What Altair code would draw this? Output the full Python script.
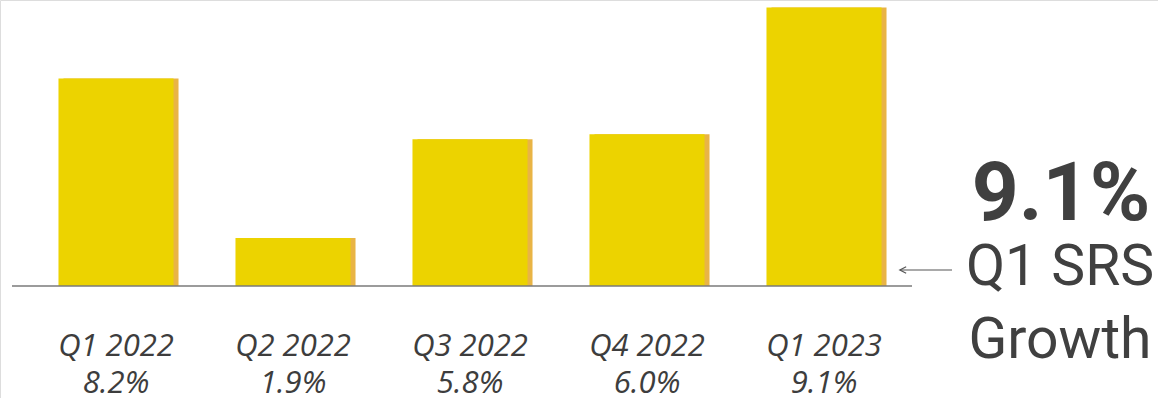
import altair as alt
import pandas as pd

quarters = ["Q1 2022", "Q2 2022", "Q3 2022", "Q4 2022", "Q1 2023"]
growth_labels = ["8.2%", "1.9%", "5.8%", "6.0%", "9.1%"]
# bar heights as drawn in the picture (the last bar is drawn taller than its value)
bar_heights = [8.2, 1.9, 5.8, 6.0, 11.0]

headline = "9.1%"
caption_lines = ["Q1 SRS", "Growth"]

df = pd.DataFrame({"quarter": quarters, "label": growth_labels, "h": bar_heights})

W, H = 1158, 398
xscale = alt.Scale(domain=quarters, range=[27.5, 912.5], paddingInner=0.35, paddingOuter=0.175)
yscale = alt.Scale(domain=[0, 11.3], range=[286, 0])

X = alt.X("quarter:N", scale=xscale, axis=None, sort=quarters)
Y = alt.Y("h:Q", scale=yscale, axis=None)

shadow = alt.Chart(df).mark_bar(color="#E9B445", xOffset=5).encode(x=X, y=Y, y2=alt.datum(0))
bars = alt.Chart(df).mark_bar(color="#ECD300").encode(x=X, y=Y, y2=alt.datum(0))

baseline = alt.Chart(df.head(1)).mark_rule(color="#7a7a7a", strokeWidth=1.5).encode(
    x=alt.value(12), x2=alt.value(912), y=alt.value(286))

labels = alt.Chart(df).transform_calculate(
    full="datum.quarter + '\\n' + datum.label"
).mark_text(font="Open Sans", fontStyle="italic", fontSize=31, lineBreak="\n", lineHeight=37,
            color="#3d3d3d", baseline="alphabetic").encode(
    x=X, y=alt.value(356), text="full:N")

hdf = pd.DataFrame({"t": [headline]})
head = alt.Chart(hdf).mark_text(font="Roboto", fontWeight="bold", fontSize=82,
                                color="#404040", baseline="alphabetic", align="center").encode(
    x=alt.value(1061), y=alt.value(220), text="t:N")

cdf = pd.DataFrame({"t": ["\n".join(caption_lines)]})
cap = alt.Chart(cdf).mark_text(font="Roboto", fontSize=57, color="#404040", lineBreak="\n",
                               lineHeight=73, baseline="alphabetic", align="center").encode(
    x=alt.value(1060), y=alt.value(285), text="t:N")

arrow_line = alt.Chart(hdf).mark_rule(color="#555555", strokeWidth=1.2).encode(
    x=alt.value(900), x2=alt.value(952), y=alt.value(270))
arrow_head = alt.Chart(hdf).mark_point(shape="M1,-1L-1,0L1,1", filled=False, color="#555555",
                                       size=40, strokeWidth=1.2, opacity=1).encode(
    x=alt.value(903), y=alt.value(270))

chart = alt.layer(shadow, bars, baseline, labels, head, cap, arrow_line, arrow_head).properties(
    width=W, height=H, padding=0, autosize=alt.AutoSizeParams(type="none")
).configure_view(stroke=None).configure(background="white")

chart.save("out.html", embed_options={"renderer": "svg", "actions": False})
